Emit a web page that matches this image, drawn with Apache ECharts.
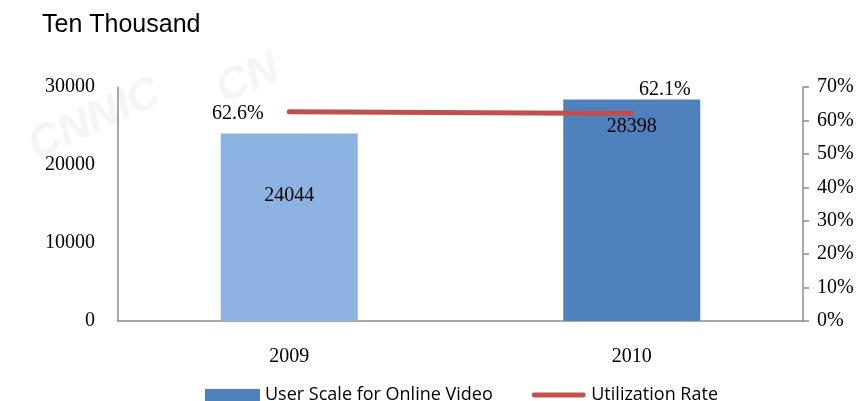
<!DOCTYPE html>
<html>
<head>
<meta charset="utf-8">
<script src="https://cdn.jsdelivr.net/npm/echarts@6/dist/echarts.min.js"></script>
<style>html,body{margin:0;padding:0;background:#fff}#c{width:864px;height:401px}</style>
</head>
<body>
<div id="c"></div>
<script>
var categories = ['2009', '2010'];
var userScale = [24044, 28398];
var utilizationRate = [62.6, 62.1];
var barColors = ['#8db3e2', '#4f81bd'];
var unitTitle = 'Ten Thousand';
var seriesNames = ['User Scale for Online Video', 'Utilization Rate'];

var chart = echarts.init(document.getElementById('c'));
var serif = '"Liberation Serif", "Times New Roman", serif';
var axisGrey = '#8c8c8c';
var lineIcon = 'path://M0,0 L0.01,0 L0.01,0.01 Z M12,18 L258,18 A12,12 0 0 1 258,42 L12,42 A12,12 0 0 1 12,18 Z M269.99,59.99 L270,60 L269.99,60 Z';

chart.setOption({
  animation: false,
  graphic: [
    { type: 'text', left: 42, top: 13, style: { text: unitTitle, font: '25px "Liberation Sans", Arial, sans-serif', fill: '#000' } },
    { type: 'text', x: 22, y: 128, rotation: 0.42, z: -10, style: { text: 'CNNIC', font: 'bold italic 44px "Liberation Sans", sans-serif', fill: '#f5f5f5' } },
    { type: 'text', x: 210, y: 72, rotation: 0.42, z: -10, style: { text: 'CN', font: 'bold italic 44px "Liberation Sans", sans-serif', fill: '#f5f5f5' } }
  ],
  legend: {
    left: 200, top: 381,
    itemWidth: 55, itemHeight: 12, itemGap: 39,
    textStyle: { fontFamily: '"Open Sans", "Noto Sans", sans-serif', fontSize: 18, color: '#000' },
    data: [
      { name: seriesNames[0], icon: 'rect', itemStyle: { color: '#4f81bd' } },
      { name: seriesNames[1], icon: lineIcon, itemStyle: { color: '#c0504d' } }
    ]
  },
  grid: { left: 118, right: 61, top: 87, bottom: 80, containLabel: false },
  xAxis: {
    type: 'category', data: categories,
    axisLine: { lineStyle: { color: axisGrey, width: 1.5 } },
    axisTick: { show: false },
    axisLabel: { fontFamily: serif, fontSize: 20, color: '#000', margin: 26 }
  },
  yAxis: [
    {
      type: 'value', min: 0, max: 30000, interval: 10000, position: 'left',
      axisLine: { show: true, lineStyle: { color: axisGrey, width: 1.5 } },
      axisTick: { show: false },
      splitLine: { show: false },
      axisLabel: { fontFamily: serif, fontSize: 20, color: '#000', margin: 23, formatter: function (v) { return String(v); } }
    },
    {
      type: 'value', min: 0, max: 70, interval: 10, position: 'right',
      axisLine: { show: true, lineStyle: { color: axisGrey, width: 1.5 } },
      axisTick: { show: true, length: 6, lineStyle: { color: axisGrey, width: 1.5 } },
      splitLine: { show: false },
      axisLabel: { fontFamily: serif, fontSize: 20, color: '#000', margin: 14, formatter: '{value}%' }
    }
  ],
  series: [
    {
      name: seriesNames[0], type: 'bar', barWidth: '40%', yAxisIndex: 0,
      itemStyle: { color: '#4f81bd' },
      data: userScale.map(function (v, i) {
        return {
          value: v,
          itemStyle: { color: barColors[i] },
          label: { show: true, position: 'insideTop', offset: [0, i === 0 ? 47 : 12] }
        };
      }),
      label: { fontFamily: serif, fontSize: 20, color: '#000' }
    },
    {
      name: seriesNames[1], type: 'line', yAxisIndex: 1,
      symbol: 'circle', symbolSize: 1,
      lineStyle: { color: '#c0504d', width: 5, cap: 'round' },
      itemStyle: { color: '#c0504d' },
      label: { show: true, fontFamily: serif, fontSize: 20, color: '#000', formatter: '{c}%' },
      data: utilizationRate.map(function (v, i) {
        return {
          value: v,
          label: i === 0 ? { position: 'left', distance: 25, offset: [0, 2] } : { position: 'inside', offset: [33, -24] }
        };
      })
    }
  ]
});
</script>
</body>
</html>
